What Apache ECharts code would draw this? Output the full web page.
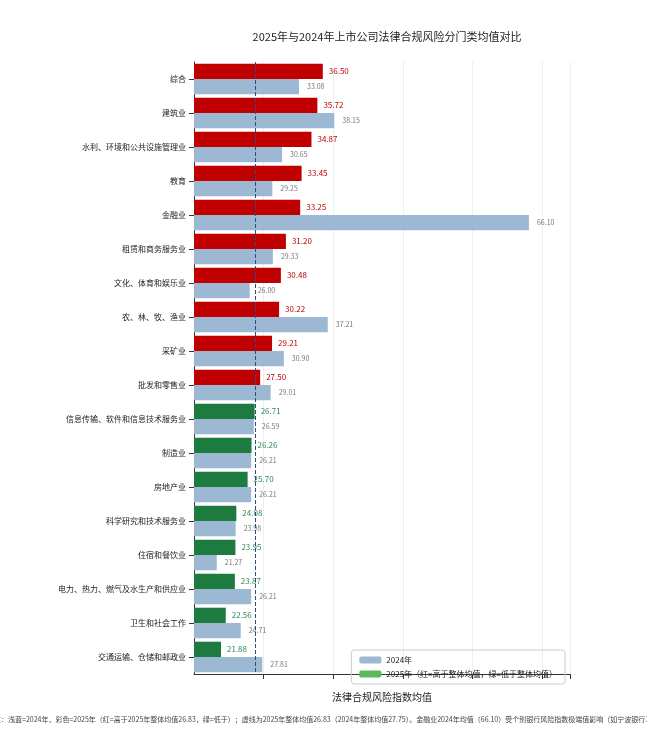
<!DOCTYPE html>
<html lang="zh">
<head>
<meta charset="UTF-8">
<title>法律合规风险</title>
<script src="https://cdn.jsdelivr.net/npm/echarts@6/dist/echarts.min.js"></script>
<style>body{margin:0;background:#fff}</style>
</head>
<body>
<div id="box" style="width:647px;height:732px;"></div>
<script>
  // 门类
  var categories = ['综合', '建筑业', '水利、环境和公共设施管理业', '教育', '金融业', '租赁和商务服务业',
    '文化、体育和娱乐业', '农、林、牧、渔业', '采矿业', '批发和零售业', '信息传输、软件和信息技术服务业',
    '制造业', '房地产业', '科学研究和技术服务业', '住宿和餐饮业', '电力、热力、燃气及水生产和供应业',
    '卫生和社会工作', '交通运输、仓储和邮政业'];
  var values2025 = [36.50, 35.72, 34.87, 33.45, 33.25, 31.20, 30.48, 30.22, 29.21, 27.50,
    26.71, 26.26, 25.70, 24.08, 23.95, 23.87, 22.56, 21.88];
  var values2024 = [33.08, 38.15, 30.65, 29.25, 66.10, 29.33, 26.00, 37.21, 30.90, 29.01,
    26.59, 26.21, 26.21, 23.98, 21.27, 26.21, 24.71, 27.81];
  var mean2025 = 26.83;

  var RED = '#c00000', GREEN = '#1e7b3f';
  var chart = echarts.init(document.getElementById('box'));
  var font = '"Noto Sans CJK SC", "DejaVu Sans", sans-serif';

  chart.setOption({
    animation: false,
    textStyle: {fontFamily: font},
    title: {
      text: '2025年与2024年上市公司法律合规风险分门类均值对比',
      left: 382, top: 26, textAlign: 'center',
      textStyle: {fontSize: 11, fontWeight: 'normal', color: '#222', fontFamily: font}
    },
    graphic: [{
      type: 'text', left: 'center', top: 716,
      style: {
        text: '注：浅蓝=2024年，彩色=2025年（红=高于2025年整体均值26.83，绿=低于）；虚线为2025年整体均值26.83（2024年整体均值27.75）。金融业2024年均值（66.10）受个别银行风险指数极端值影响（如宁波银行18',
        fontSize: 7, fill: '#444', fontFamily: font
      }
    }],
    legend: {
      orient: 'vertical', right: 82, top: 650,
      itemWidth: 22, itemHeight: 7, itemGap: 6,
      padding: [6, 8], borderColor: '#ccc', borderWidth: 1, borderRadius: 3,
      textStyle: {fontSize: 8, color: '#222'},
      data: [
        {name: '2024年', itemStyle: {color: '#9db8d2'}},
        {name: '2025年（红=高于整体均值，绿=低于整体均值）', itemStyle: {color: '#5cb85c'}}
      ]
    },
    grid: {left: 194, right: 77, top: 62, bottom: 58},
    xAxis: {
      type: 'value', min: 18, max: 72, interval: 10,
      name: '法律合规风险指数均值', nameLocation: 'middle', nameGap: 18,
      nameTextStyle: {fontSize: 10, color: '#222'},
      axisLine: {show: true, lineStyle: {color: '#333'}},
      axisTick: {show: true, lineStyle: {color: '#333'}},
      axisLabel: {fontSize: 9, color: '#333', showMinLabel: false,
        formatter: function (v) { return v % 10 === 0 ? v : ''; }},
      splitLine: {lineStyle: {color: '#eee'}}
    },
    yAxis: {
      type: 'category', inverse: true, data: categories,
      axisLine: {show: true, lineStyle: {color: '#333'}},
      axisTick: {show: true, alignWithLabel: true, lineStyle: {color: '#333'}},
      axisLabel: {fontSize: 8, color: '#222', margin: 8}
    },
    series: [{
      name: '2025年（红=高于整体均值，绿=低于整体均值）',
      type: 'bar', barGap: '0%', barCategoryGap: '10%',
      data: values2025.map(function (v) {
        var c = v > mean2025 ? RED : GREEN;
        return {value: v, itemStyle: {color: c},
          label: {color: v > mean2025 ? RED : '#2e8b57'}};
      }),
      label: {show: true, position: 'right', fontSize: 8, distance: 6,
        formatter: function (p) { return p.value.toFixed(2); }},
      markLine: {
        symbol: 'none', silent: true,
        lineStyle: {type: 'dashed', color: '#2a4d80', width: 1},
        label: {show: false},
        data: [{xAxis: mean2025}]
      }
    }, {
      name: '2024年',
      type: 'bar',
      itemStyle: {color: '#9db8d2'},
      data: values2024,
      label: {show: true, position: 'right', fontSize: 7, color: '#777', distance: 8,
        formatter: function (p) { return p.value.toFixed(2); }}
    }, {
      type: 'scatter', data: [], silent: true,
      markPoint: {
        symbol: 'none',
        label: {show: true, formatter: '2025年整体均值 26.83', fontSize: 7, color: '#2a4d80',
          position: 'right', offset: [-4, 0]},
        data: [{coord: [mean2025, 0], symbolOffset: [0, -14]}]
      }
    }]
  });
</script>
</body>
</html>
